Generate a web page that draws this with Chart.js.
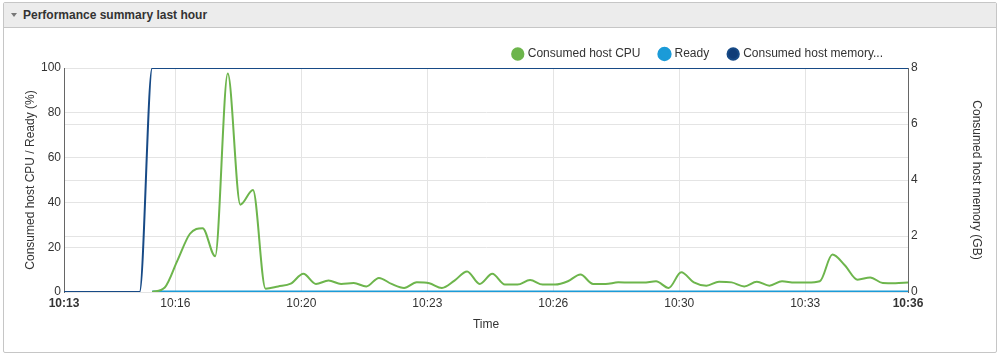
<!DOCTYPE html>
<html>
<head>
<meta charset="utf-8">
<script src="https://cdn.jsdelivr.net/npm/chart.js@4/dist/chart.umd.min.js"></script>
<style>
body { margin: 0; background: #fff; font-family: Arial, "Liberation Sans", sans-serif; }
#panel { position: absolute; left: 3px; top: 2px; width: 992px; height: 349px; border: 1px solid #c6c6c6; border-radius: 2px; }
#hdr { height: 24px; background: #ececec; border-bottom: 1px solid #c6c6c6; font-size: 12px; font-weight: bold; color: #333; line-height: 24px; padding-left: 19px; position: relative; }
#hdr:before { content: ""; position: absolute; left: 7px; top: 10px; border-left: 3px solid transparent; border-right: 3px solid transparent; border-top: 4px solid #777; }
#wrap { position: absolute; left: 4px; top: 28px; }
</style>
</head>
<body>
<div id="panel"><div id="hdr">Performance summary last hour</div></div>
<div id="wrap"><canvas id="perf" width="992" height="323"></canvas></div>
<script>
// 20 second samples, index 0 = 10:13
var timeLabels = ['10:13', '10:16', '10:20', '10:23', '10:26', '10:30', '10:33', '10:36'];
var tickAt = [0, 8.84, 18.84, 28.84, 38.84, 48.84, 58.84, 67];

var cpu = [null, null, null, null, null, null, null,
    0, 2, 14, 26, 28.5, 16, 97.5, 39, 45.5, 1.5,
    2.5, 3.7, 8.1, 3.6, 5.1, 3.6, 4.0, 2.5, 6.3, 3.6,
    1.8, 4.3, 3.9, 1.8, 5.1, 9.2, 3.6, 8.1, 3.3, 3.3,
    5.4, 3.3, 3.3, 4.8, 7.8, 3.6, 3.6, 4.3, 4.2, 4.2,
    4.8, 1.8, 8.8, 4.3, 2.8, 4.6, 4.3, 2.5, 4.6, 2.8,
    4.8, 4.2, 4.2, 4.8, 16.7, 11.8, 5.5, 6.5, 4.0, 3.9, 4.2];

var ready = [null, null, null, null, null, null, null,
    0, 0, 0, 0, 0, 0, 0, 0, 0, 0, 0, 0, 0, 0, 0, 0, 0, 0, 0, 0,
    0, 0, 0, 0, 0, 0, 0, 0, 0, 0, 0, 0, 0, 0, 0, 0, 0, 0, 0, 0,
    0, 0, 0, 0, 0, 0, 0, 0, 0, 0, 0, 0, 0, 0, 0, 0, 0, 0, 0, 0, 0];

var memoryGB = [0, 0, 0, 0, 0, 0, 0,
    8, 8, 8, 8, 8, 8, 8, 8, 8, 8, 8, 8, 8, 8, 8, 8, 8, 8, 8, 8,
    8, 8, 8, 8, 8, 8, 8, 8, 8, 8, 8, 8, 8, 8, 8, 8, 8, 8, 8, 8,
    8, 8, 8, 8, 8, 8, 8, 8, 8, 8, 8, 8, 8, 8, 8, 8, 8, 8, 8, 8, 8];

function pts(arr) {
    return arr.map((v, i) => ({ x: i, y: v }));
}

Chart.defaults.font.family = 'Arial, "Liberation Sans", sans-serif';
Chart.defaults.font.size = 12;
Chart.defaults.color = '#333';

var gridCol = '#e4e4e4';

// nudge the legend a little left of the plot's right edge
var legendShift = {
    id: 'legendShift',
    afterLayout: (chart) => {
        chart.legend.left -= 5;
        chart.legend.right -= 5;
    }
};

new Chart(document.getElementById('perf'), {
    type: 'line',
    data: {
        datasets: [{
            label: 'Consumed host CPU',
            data: pts(cpu),
            borderColor: '#6db54c',
            backgroundColor: '#6db54c',
            borderWidth: 2,
            pointRadius: 0,
            cubicInterpolationMode: 'monotone',
            yAxisID: 'y'
        }, {
            label: 'Ready',
            data: pts(ready),
            borderColor: '#1b9bd8',
            backgroundColor: '#1b9bd8',
            borderWidth: 3,
            pointRadius: 0,
            yAxisID: 'y'
        }, {
            label: 'Consumed host memory...',
            data: pts(memoryGB),
            borderColor: '#174a86',
            backgroundColor: '#0f3c78',
            borderWidth: 2,
            pointRadius: 0,
            cubicInterpolationMode: 'monotone',
            yAxisID: 'y1'
        }]
    },
    plugins: [legendShift],
    options: {
        responsive: false,
        animation: false,
        layout: { padding: 0 },
        plugins: {
            tooltip: { enabled: false },
            legend: {
                position: 'top',
                align: 'end',
                fullSize: false,
                maxHeight: 40,
                labels: {
                    usePointStyle: true,
                    pointStyle: 'circle',
                    boxWidth: 8,
                    boxHeight: 8,
                    padding: 20,
                    color: '#333'
                }
            }
        },
        scales: {
            x: {
                type: 'linear',
                min: 0,
                max: 67,
                afterBuildTicks: (axis) => {
                    axis.ticks = tickAt.map(v => ({ value: v }));
                },
                afterFit: (s) => { s.height = 59; },
                ticks: {
                    autoSkip: false,
                    maxRotation: 0,
                    padding: 4,
                    callback: (v, i) => timeLabels[i],
                    font: (ctx) => ({
                        size: 12,
                        weight: (ctx.index === 0 || ctx.index === timeLabels.length - 1) ? 'bold' : 'normal'
                    })
                },
                grid: {
                    drawTicks: false,
                    color: (ctx) => (ctx.index === 0 || ctx.index === timeLabels.length - 1) ? 'rgba(0,0,0,0)' : gridCol
                },
                border: { display: false },
                title: { display: true, text: 'Time', padding: { top: 0, bottom: 19 } }
            },
            y: {
                position: 'left',
                min: 0,
                max: 100,
                afterFit: (s) => { s.width = 60; },
                ticks: { stepSize: 20, padding: 3 },
                grid: { drawTicks: false, color: gridCol },
                border: { color: '#666' },
                title: { display: true, text: 'Consumed host CPU / Ready (%)', padding: { top: 19, bottom: 0 } }
            },
            y1: {
                position: 'right',
                min: 0,
                max: 8,
                afterFit: (s) => { s.width = 88; },
                ticks: { stepSize: 2, padding: 3 },
                grid: { drawTicks: false, color: gridCol },
                border: { color: '#666' },
                title: { display: true, text: 'Consumed host memory (GB)', padding: { top: 12, bottom: 0 } }
            }
        }
    }
});
</script>
</body>
</html>
